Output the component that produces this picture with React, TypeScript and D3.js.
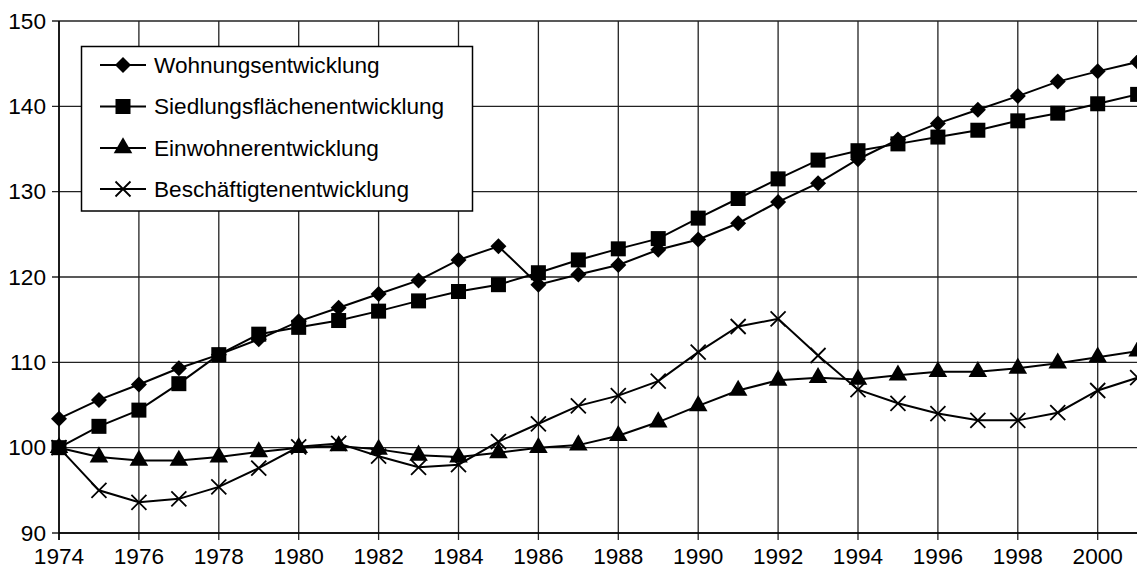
import React from "react";
import * as d3 from "d3";

const years = d3.range(1974, 2002);
const wohnungen = [103.4, 105.6, 107.4, 109.3, 110.9, 112.7, 114.8, 116.4, 118.0, 119.6, 122.0, 123.6, 119.1, 120.3, 121.4, 123.2, 124.4, 126.3, 128.8, 131.0, 133.8, 136.1, 138.0, 139.6, 141.2, 142.9, 144.1, 145.2];
const siedlung = [100.0, 102.5, 104.4, 107.5, 110.9, 113.3, 114.1, 114.9, 116.0, 117.2, 118.3, 119.1, 120.5, 122.0, 123.3, 124.5, 126.9, 129.2, 131.5, 133.7, 134.8, 135.6, 136.4, 137.2, 138.3, 139.2, 140.3, 141.4];
const einwohner = [100.0, 98.9, 98.5, 98.5, 98.9, 99.5, 100.0, 100.2, 99.8, 99.1, 98.9, 99.4, 100.0, 100.3, 101.4, 103.0, 104.9, 106.7, 107.9, 108.2, 108.0, 108.5, 108.9, 108.9, 109.3, 109.9, 110.6, 111.3];
const beschaeftigte = [100.0, 95.0, 93.6, 94.0, 95.4, 97.6, 100.1, 100.5, 99.0, 97.7, 98.0, 100.7, 102.8, 104.9, 106.1, 107.8, 111.2, 114.2, 115.1, 110.8, 106.8, 105.2, 104.0, 103.2, 103.2, 104.1, 106.7, 108.2];

const seriesNames = ["Wohnungsentwicklung", "Siedlungsflächenentwicklung", "Einwohnerentwicklung", "Beschäftigtenentwicklung"];
const seriesMarkers = ["diamond", "square", "triangle", "cross"];
const seriesValues = [wohnungen, siedlung, einwohner, beschaeftigte];

const yTicks = [90, 100, 110, 120, 130, 140, 150];
const xTicks = d3.range(1974, 2002, 2);

const W = 1137;
const H = 568;
const FONT = "'Liberation Sans', Arial, Helvetica, sans-serif";
const FS = 22.6;

function Marker({ type, x, y }: { type: string; x: number; y: number }) {
  if (type === "diamond") {
    const r = 8;
    return <path d={`M${x},${y - r}L${x + r},${y}L${x},${y + r}L${x - r},${y}Z`} fill="#000" />;
  }
  if (type === "square") {
    const s = 7.5;
    return <rect x={x - s} y={y - s} width={2 * s} height={2 * s} fill="#000" />;
  }
  if (type === "triangle") {
    const tri = d3.symbol(d3.symbolTriangle, 150)();
    return <path d={tri || ""} transform={`translate(${x},${y})`} fill="#000" />;
  }
  const s = 7.5;
  return (
    <path d={`M${x - s},${y - s}L${x + s},${y + s}M${x - s},${y + s}L${x + s},${y - s}`} stroke="#000" strokeWidth={1.8} fill="none" />
  );
}

export default function App() {
  const x = d3.scaleLinear().domain([1974, 2001]).range([59, 59 + 27 * 39.95]);
  const y = d3.scaleLinear().domain([90, 150]).range([533, 21]);
  const line = d3
    .line<number>()
    .x((_, i) => x(years[i]))
    .y((d) => y(d));

  const legendRows = [65, 106.5, 148, 189];

  return (
    <svg width={W} height={H} style={{ position: "absolute", left: 0, top: 0, background: "#fff" }} fontFamily={FONT}>
      <rect x={0} y={0} width={W} height={H} fill="#fff" />
      {yTicks.map((t) => (
        <line key={"gy" + t} x1={52} x2={W} y1={y(t)} y2={y(t)} stroke="#222" strokeWidth={1.3} />
      ))}
      {xTicks.map((t) => (
        <line key={"gx" + t} x1={x(t)} x2={x(t)} y1={y(150)} y2={y(90) + 7} stroke="#222" strokeWidth={1.3} />
      ))}
      <line x1={x(1974)} x2={x(1974)} y1={y(150)} y2={y(90) + 7} stroke="#000" strokeWidth={1.5} />
      <line x1={x(1974)} x2={W} y1={y(90)} y2={y(90)} stroke="#000" strokeWidth={1.5} />
      {yTicks.map((t) => (
        <text key={"ly" + t} x={46} y={y(t)} textAnchor="end" dominantBaseline="central" fontSize={FS} fill="#000">
          {t}
        </text>
      ))}
      {xTicks.map((t) => (
        <text key={"lx" + t} x={x(t)} y={564} textAnchor="middle" fontSize={FS} fill="#000">
          {t}
        </text>
      ))}
      {seriesValues.map((vals, si) => (
        <g key={"s" + si}>
          <path d={line(vals) || ""} fill="none" stroke="#000" strokeWidth={2} />
          {vals.map((v, i) => (
            <Marker key={i} type={seriesMarkers[si]} x={x(years[i])} y={y(v)} />
          ))}
        </g>
      ))}
      <rect x={81.5} y={46.5} width={391} height={164.5} fill="#fff" stroke="#000" strokeWidth={1.5} />
      {seriesNames.map((n, i) => (
        <g key={"lg" + i}>
          <line x1={100} x2={146} y1={legendRows[i]} y2={legendRows[i]} stroke="#000" strokeWidth={2} />
          <Marker type={seriesMarkers[i]} x={123} y={legendRows[i]} />
          <text x={154} y={legendRows[i]} dominantBaseline="central" fontSize={FS} fill="#000">
            {n}
          </text>
        </g>
      ))}
    </svg>
  );
}
